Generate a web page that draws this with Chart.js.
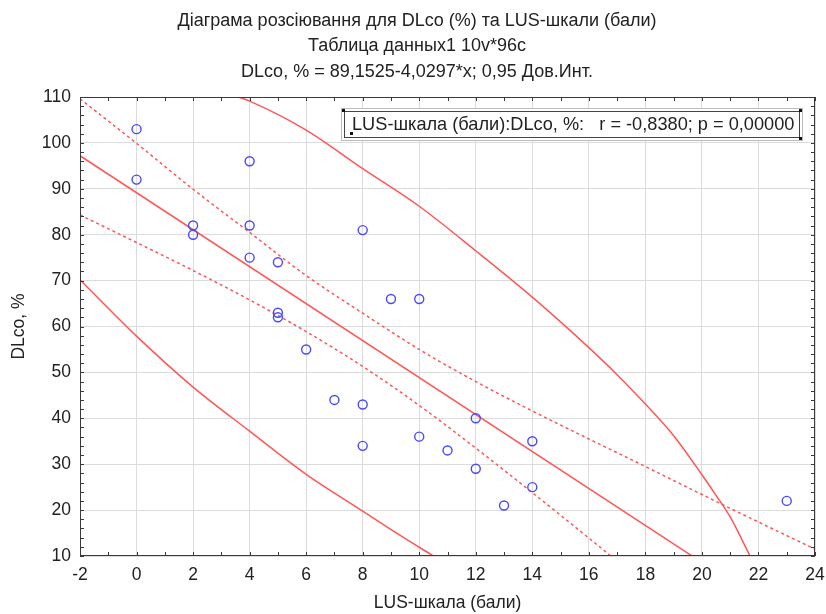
<!DOCTYPE html>
<html>
<head>
<meta charset="utf-8">
<script src="https://cdn.jsdelivr.net/npm/chart.js@4.4.1/dist/chart.umd.min.js"></script>
<style>
  html, body { margin: 0; padding: 0; background: #fff; }
  #chart { display: block; }
</style>
</head>
<body>
<canvas id="chart" width="826" height="614"></canvas>
<script>
"use strict";

// observed cases
var lusScores  = [0, 0, 2, 2, 4, 4, 4, 5, 5, 5, 6, 7, 8, 8, 8, 9, 10, 10, 11, 12, 12, 13, 14, 14, 23];
var dlcoValues = [103, 92, 82, 80, 96, 82, 75, 74, 63, 62, 55, 44, 81, 43, 34, 66, 66, 36, 33, 40, 29, 21, 35, 25, 22];

// fitted line (read at its ends)
var fitX = [-2, 20];
var fitY = [97.2, 8.6];

// 0.95 confidence band, dashed
var ciUpperX = [-2, 0, 2, 4, 6, 8, 10, 12, 14, 16, 18, 20, 22, 24];
var ciUpperY = [109.6, 99.9, 89.9, 80.5, 71.1, 62.9, 55.0, 48.0, 41.6, 35.5, 29.5, 23.4, 17.4, 11.5];
var ciLowerX = [-2, 0, 2, 4, 6, 8, 10, 12, 14, 16, 17];
var ciLowerY = [84.3, 78.3, 72.2, 65.8, 58.9, 51.3, 42.8, 33.5, 23.8, 13.9, 8.9];

// outer solid curves
var outerUpperX = [3.6, 4, 6, 8, 10, 12, 14, 16, 17, 18, 19, 20, 20.5, 21, 21.7];
var outerUpperY = [110, 109.1, 102.8, 94.4, 86.2, 76.5, 66.4, 55.4, 49.5, 43.1, 36.2, 27.7, 23.2, 18.5, 10];
var outerLowerX = [-2, 0, 2, 4, 6, 8, 9.3, 10.5];
var outerLowerY = [70.2, 57.9, 46.8, 37.2, 27.8, 19.8, 14.6, 10];

var xTickMin = -2, xTickMax = 24, xTickStep = 2;
var yTickMin = 10, yTickMax = 110, yTickStep = 10;

var titleLines = [
    "Діаграма розсіювання для DLco (%) та LUS-шкали (бали)",
    "Таблица данных1 10v*96c",
    "DLco, % = 89,1525-4,0297*x; 0,95 Дов.Инт."
];
var legendText = "LUS-шкала (бали):DLco, %:   r = -0,8380; p = 0,00000";

var FONT = "'Liberation Sans', Arial, sans-serif";
var RED = "#ff5757";

function zip(xs, ys) {
    return xs.map(function (x, i) { return { x: x, y: ys[i] }; });
}

function curve(xs, ys, dashed) {
    return {
        data: zip(xs, ys),
        showLine: true,
        borderColor: RED,
        borderWidth: 1.5,
        borderDash: dashed ? [3, 3] : [],
        pointRadius: 0,
        pointHoverRadius: 0,
        cubicInterpolationMode: "monotone",
        fill: false
    };
}

// frame, inward ticks, titles and the r/p box
var decorPlugin = {
    id: "decor",
    afterDraw: function (chart) {
        var ctx = chart.ctx;
        var a = chart.chartArea;
        var xs = chart.scales.x, ys = chart.scales.y;
        var v, p;

        ctx.save();
        ctx.strokeStyle = "#3a3a3a";
        ctx.lineWidth = 1;
        ctx.strokeRect(a.left + 0.5, a.top + 0.5, a.right - a.left - 1, a.bottom - a.top - 1);

        ctx.beginPath();
        for (v = xTickMin; v <= xTickMax; v += 1) {
            p = Math.round(xs.getPixelForValue(v)) + 0.5;
            ctx.moveTo(p, a.bottom); ctx.lineTo(p, a.bottom - 4);
            ctx.moveTo(p, a.top); ctx.lineTo(p, a.top + 4);
        }
        for (v = yTickMin; v <= yTickMax; v += 2) {
            p = Math.round(ys.getPixelForValue(v)) + 0.5;
            ctx.moveTo(a.left, p); ctx.lineTo(a.left + 4, p);
            ctx.moveTo(a.right, p); ctx.lineTo(a.right - 4, p);
        }
        ctx.stroke();

        // titles
        ctx.fillStyle = "#222";
        ctx.font = "18px " + FONT;
        ctx.textAlign = "center";
        ctx.textBaseline = "middle";
        titleLines.forEach(function (t, i) {
            ctx.fillText(t, 417, 21 + i * 25.5);
        });

        // correlation box
        var bx = 341, by = 108, bw = 462, bh = 33;
        ctx.fillStyle = "#fff";
        ctx.fillRect(bx, by, bw, bh);
        ctx.setLineDash([1, 1]);
        ctx.strokeStyle = "#777";
        ctx.strokeRect(bx + 0.5, by + 0.5, bw - 1, bh - 1);
        ctx.setLineDash([]);
        ctx.strokeStyle = "#444";
        ctx.strokeRect(bx + 3.5, by + 3.5, bw - 7, bh - 7);
        ctx.fillStyle = "#111";
        ctx.fillRect(bx + 1, by + 1, 3, 3);
        ctx.fillRect(bx + bw - 4, by + 1, 3, 3);
        ctx.fillRect(bx + bw - 4, by + bh - 4, 3, 3);
        ctx.fillRect(bx + 9, by + bh - 9, 3, 3);
        ctx.fillStyle = "#222";
        ctx.font = "18.2px " + FONT;
        ctx.textAlign = "left";
        ctx.fillText(legendText, bx + 11, by + bh / 2 + 0.5);
        ctx.restore();
    }
};

var ctx = document.getElementById("chart").getContext("2d");
var chart = new Chart(ctx, {
    type: "scatter",
    data: {
        datasets: [
            {
                data: zip(lusScores, dlcoValues),
                pointRadius: 4.5,
                pointHoverRadius: 4.5,
                pointBorderWidth: 1.4,
                borderColor: "#4848ff",
                backgroundColor: "rgba(0,0,0,0)",
                showLine: false
            },
            curve(fitX, fitY, false),
            curve(ciUpperX, ciUpperY, true),
            curve(ciLowerX, ciLowerY, true),
            curve(outerUpperX, outerUpperY, false),
            curve(outerLowerX, outerLowerY, false)
        ]
    },
    options: {
        responsive: false,
        animation: false,
        events: [],
        layout: { padding: { top: 97, right: 11, left: 0, bottom: 0 } },
        plugins: {
            legend: { display: false },
            title: { display: false },
            tooltip: { enabled: false }
        },
        scales: {
            x: {
                type: "linear",
                min: xTickMin,
                max: xTickMax,
                afterFit: function (scale) {
                    scale.height = 58;
                    scale.paddingLeft = 0;
                    scale.paddingRight = 0;
                },
                ticks: {
                    stepSize: xTickStep,
                    padding: 9,
                    color: "#222",
                    font: { family: FONT, size: 17.5 }
                },
                grid: { color: "#dcdcdc", drawTicks: false },
                border: { display: false },
                title: {
                    display: true,
                    text: "LUS-шкала (бали)",
                    color: "#222",
                    font: { family: FONT, size: 17.5 },
                    padding: { top: 0, bottom: 0 }
                }
            },
            y: {
                type: "linear",
                min: yTickMin,
                max: yTickMax,
                afterFit: function (scale) { scale.width = 80; },
                ticks: {
                    stepSize: yTickStep,
                    padding: 9,
                    color: "#222",
                    font: { family: FONT, size: 17.5 }
                },
                grid: { color: "#dcdcdc", drawTicks: false },
                border: { display: false },
                title: {
                    display: true,
                    text: "DLco, %",
                    color: "#222",
                    font: { family: FONT, size: 17.5 },
                    padding: { top: 9, bottom: 0 }
                }
            }
        }
    },
    plugins: [decorPlugin]
});
</script>
</body>
</html>
